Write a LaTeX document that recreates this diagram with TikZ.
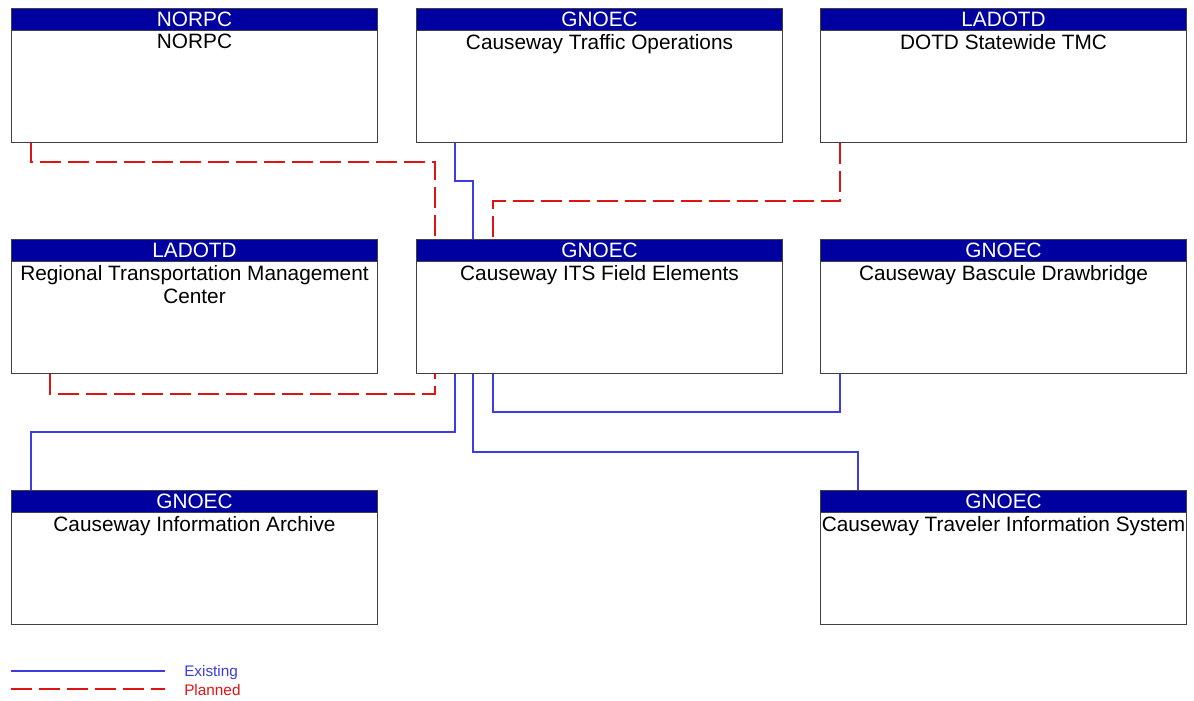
\documentclass[tikz,border=0pt]{standalone}
\usepackage{fontspec}
\setmainfont{Liberation Sans}
\usetikzlibrary{calc}
\definecolor{hdr}{RGB}{0,0,160}
\definecolor{exline}{RGB}{60,60,225}
\definecolor{plline}{RGB}{220,20,20}
\begin{document}
\begin{tikzpicture}[x=0.75pt,y=-0.75pt,
  box/.style={draw=black!75, line width=0.75pt, fill=white, minimum width=274.5pt, minimum height=100.5pt, anchor=north west, inner sep=0pt},
  hdrbox/.style={draw=black!75, line width=0.75pt, fill=hdr, text=white, minimum width=274.5pt, minimum height=16.5pt, anchor=north, inner sep=0pt, font=\fontsize{15.6}{17}\selectfont},
  body/.style={anchor=north, align=center, inner sep=0pt, font=\fontsize{15.6}{17.25}\selectfont},
  existing/.style={draw=exline, line width=0.8pt},
  planned/.style={draw=plline, line width=0.8pt, dash pattern=on 15.75pt off 5.25pt},
  legtext/.style={anchor=west, inner sep=0pt, font=\fontsize{11.5}{13}\selectfont}]
\useasboundingbox (0,0) rectangle (1194,700);

% boxes
\node[box] (norpc) at (11,8) {};
\node[hdrbox] (norpch) at (norpc.north) {NORPC};
\node[body] (norpcb) at ([yshift=-19.5pt]norpc.north) {NORPC};

\node[box] (cto) at (416,8) {};
\node[hdrbox] (ctoh) at (cto.north) {GNOEC};
\node[body] (ctob) at ([yshift=-19.5pt]cto.north) {Causeway Traffic Operations};

\node[box] (dotd) at (820,8) {};
\node[hdrbox] (dotdh) at (dotd.north) {LADOTD};
\node[body] (dotdb) at ([yshift=-19.5pt]dotd.north) {DOTD Statewide TMC};

\node[box] (rtmc) at (11,239) {};
\node[hdrbox] (rtmch) at (rtmc.north) {LADOTD};
\node[body] (rtmcb) at ([yshift=-19.5pt]rtmc.north) {Regional Transportation Management\\Center};

\node[box] (its) at (416,239) {};
\node[hdrbox] (itsh) at (its.north) {GNOEC};
\node[body] (itsb) at ([yshift=-19.5pt]its.north) {Causeway ITS Field Elements};

\node[box] (bascule) at (820,239) {};
\node[hdrbox] (basculeh) at (bascule.north) {GNOEC};
\node[body] (basculeb) at ([yshift=-19.5pt]bascule.north) {Causeway Bascule Drawbridge};

\node[box] (archive) at (11,490) {};
\node[hdrbox] (archiveh) at (archive.north) {GNOEC};
\node[body] (archiveb) at ([yshift=-19.5pt]archive.north) {Causeway Information Archive};

\node[box] (tis) at (820,490) {};
\node[hdrbox] (tish) at (tis.north) {GNOEC};
\node[body] (tisb) at ([yshift=-19.5pt]tis.north) {Causeway Traveler Information System};

% connectors
\draw[planned] ([xshift=15pt]norpc.south west) -- ++(0,19) -| ([xshift=14.25pt]its.north west);
\draw[existing] ([xshift=29.25pt]cto.south west) -- ++(0,38) -| ([xshift=42.75pt]its.north west);
\draw[planned] ([xshift=15pt]dotd.south west) -- ++(0,58) -| ([xshift=57.75pt]its.north west);
\draw[planned] ([xshift=29.25pt]rtmc.south west) -- ++(0,20) -| ([xshift=14.25pt]its.south west);
\draw[existing] ([xshift=29.25pt]its.south west) -- ++(0,58) -| ([xshift=15pt]archive.north west);
\draw[existing] ([xshift=57.75pt]its.south west) -- ++(0,38) -| ([xshift=15pt]bascule.south west);
\draw[existing] ([xshift=42.75pt]its.south west) -- ++(0,78) -| ([xshift=28.5pt]tis.north west);

% legend
\coordinate (le1) at (11,671);
\coordinate (le2) at (165,671);
\coordinate (lp1) at (11,689);
\coordinate (lp2) at (165,689);
\draw[existing] (le1) -- (le2);
\draw[planned] (lp1) -- (lp2);
\node[legtext, text=exline] (lex) at (184,672.5) {Existing};
\node[legtext, text=plline] (lpl) at (184,690.5) {Planned};
\end{tikzpicture}
\end{document}
